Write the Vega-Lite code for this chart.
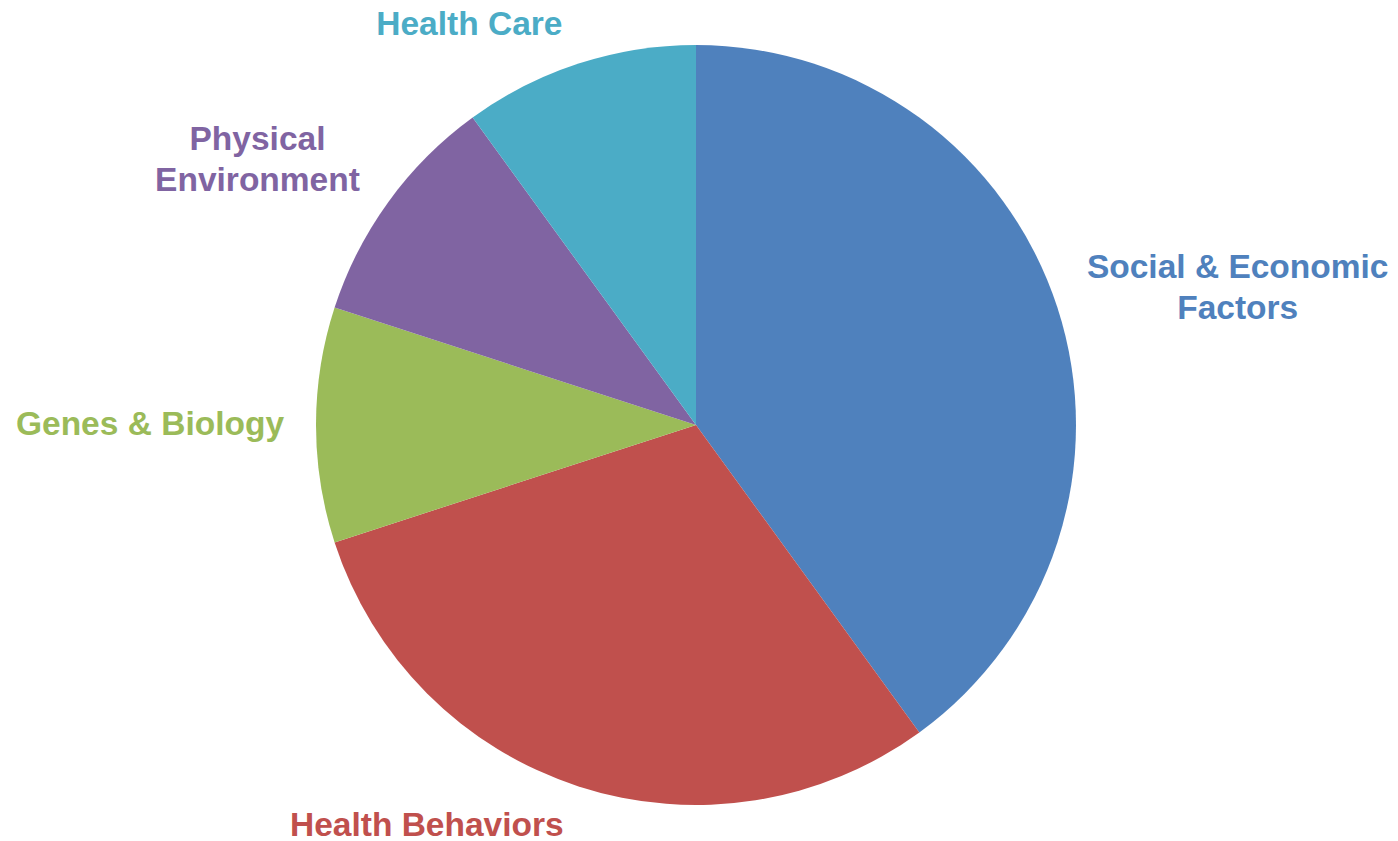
{
  "$schema": "https://vega.github.io/schema/vega-lite/v6.json",
  "autosize": {"type": "none"},
  "width": 1392,
  "height": 850,
  "padding": 0,
  "background": "white",
  "config": {"view": {"stroke": null}},
  "data": {
    "values": [
      {"cat": "Social & Economic Factors", "label": "Social & Economic\nFactors", "value": 40, "rank": 1},
      {"cat": "Health Behaviors", "label": "Health Behaviors", "value": 30, "rank": 2},
      {"cat": "Genes & Biology", "label": "Genes & Biology", "value": 10, "rank": 3},
      {"cat": "Physical Environment", "label": "Physical\nEnvironment", "value": 10, "rank": 4},
      {"cat": "Health Care", "label": "Health Care", "value": 10, "rank": 5}
    ]
  },
  "encoding": {
    "theta": {"field": "value", "type": "quantitative", "stack": true},
    "order": {"field": "rank", "type": "quantitative"},
    "color": {
      "field": "cat",
      "type": "nominal",
      "legend": null,
      "scale": {
        "domain": ["Social & Economic Factors", "Health Behaviors", "Genes & Biology", "Physical Environment", "Health Care"],
        "range": ["#4F81BD", "#C0504D", "#9BBB59", "#8064A2", "#4BACC6"]
      }
    }
  },
  "layer": [
    {"mark": {"type": "arc", "outerRadius": 380}},
    {
      "mark": {"type": "text", "radius": 564, "thetaOffset": 0.032, "font": "Liberation Sans", "fontWeight": "bold", "fontSize": 33.5, "lineBreak": "\n", "lineHeight": 41, "align": "center", "baseline": "middle"},
      "encoding": {"text": {"condition": {"test": "datum.rank === 1", "field": "label"}, "value": ""}}
    },
    {
      "mark": {"type": "text", "radius": 483, "thetaOffset": 0.277, "font": "Liberation Sans", "fontWeight": "bold", "fontSize": 33.5, "lineBreak": "\n", "lineHeight": 41, "align": "center", "baseline": "middle"},
      "encoding": {"text": {"condition": {"test": "datum.rank === 2", "field": "label"}, "value": ""}}
    },
    {
      "mark": {"type": "text", "radius": 546, "thetaOffset": 0, "font": "Liberation Sans", "fontWeight": "bold", "fontSize": 33.5, "lineBreak": "\n", "lineHeight": 41, "align": "center", "baseline": "middle"},
      "encoding": {"text": {"condition": {"test": "datum.rank === 3", "field": "label"}, "value": ""}}
    },
    {
      "mark": {"type": "text", "radius": 523, "thetaOffset": -0.052, "font": "Liberation Sans", "fontWeight": "bold", "fontSize": 33.5, "lineBreak": "\n", "lineHeight": 41, "align": "center", "baseline": "middle"},
      "encoding": {"text": {"condition": {"test": "datum.rank === 4", "field": "label"}, "value": ""}}
    },
    {
      "mark": {"type": "text", "radius": 460, "thetaOffset": -0.201, "font": "Liberation Sans", "fontWeight": "bold", "fontSize": 33.5, "lineBreak": "\n", "lineHeight": 41, "align": "center", "baseline": "middle"},
      "encoding": {"text": {"condition": {"test": "datum.rank === 5", "field": "label"}, "value": ""}}
    }
  ]
}
